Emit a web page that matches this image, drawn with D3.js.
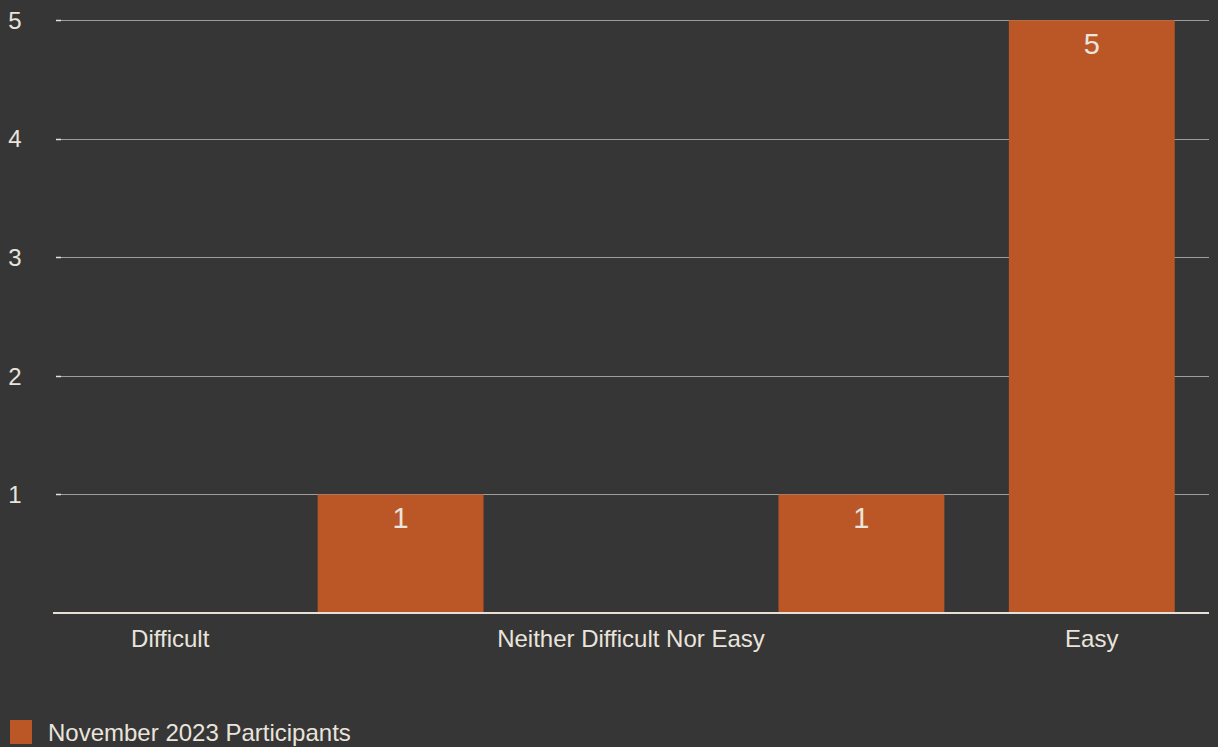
<!DOCTYPE html>
<html>
<head>
<meta charset="utf-8">
<script src="https://cdn.jsdelivr.net/npm/d3@7"></script>
<style>
  html, body { margin: 0; padding: 0; background: #363636; }
  svg { display: block; }
  text { font-family: "Liberation Sans", Arial, Helvetica, sans-serif; }
</style>
</head>
<body>
<svg id="chart" width="1218" height="747"></svg>
<script>
// Survey responses: difficulty rating counts
const categories = ["Difficult", "Somewhat Difficult", "Neither Difficult Nor Easy", "Somewhat Easy", "Easy"];
const axisLabels = ["Difficult", "", "Neither Difficult Nor Easy", "", "Easy"];
const counts = [0, 1, 0, 1, 5];
const yTicks = [1, 2, 3, 4, 5];
const seriesName = "November 2023 Participants";

const W = 1218, H = 747;
const plot = { left: 55, right: 1207, top: 20.3, bottom: 613 };
const barColor = "#bb5727";
const textColor = "#e9e4dc";

const svg = d3.select("#chart");
svg.append("rect").attr("width", W).attr("height", H).attr("fill", "#363636");

const x = d3.scaleBand()
  .domain(categories)
  .range([plot.left, plot.right])
  .paddingInner(0.28)
  .paddingOuter(0.14);

const y = d3.scaleLinear().domain([0, 5]).range([plot.bottom, plot.top]);

// horizontal gridlines
const grid = svg.append("g");
grid.selectAll("line.grid")
  .data(yTicks)
  .join("line")
  .attr("class", "grid")
  .attr("x1", plot.left + 6)
  .attr("x2", 1209)
  .attr("y1", d => Math.round(y(d)) + 0.5)
  .attr("y2", d => Math.round(y(d)) + 0.5)
  .attr("stroke", "#a09e9b")
  .attr("stroke-width", 1.2);

// small tick marks at the left end of each gridline
grid.selectAll("line.tick")
  .data(yTicks)
  .join("line")
  .attr("class", "tick")
  .attr("x1", plot.left + 1)
  .attr("x2", plot.left + 6)
  .attr("y1", d => Math.round(y(d)) + 0.5)
  .attr("y2", d => Math.round(y(d)) + 0.5)
  .attr("stroke", "#e6e0d6")
  .attr("stroke-width", 1.5);

// y tick labels
svg.append("g").selectAll("text")
  .data(yTicks)
  .join("text")
  .attr("x", 15)
  .attr("y", d => y(d))
  .attr("dy", "0.36em")
  .attr("text-anchor", "middle")
  .attr("fill", textColor)
  .attr("font-size", 24)
  .text(d => d);

// bars
svg.append("g").selectAll("rect")
  .data(categories.map((c, i) => ({ c, v: counts[i] })).filter(d => d.v > 0))
  .join("rect")
  .attr("x", d => x(d.c))
  .attr("width", x.bandwidth())
  .attr("y", d => y(d.v))
  .attr("height", d => y(0) - y(d.v))
  .attr("fill", barColor);

// value labels inside bars
svg.append("g").selectAll("text")
  .data(categories.map((c, i) => ({ c, v: counts[i] })).filter(d => d.v > 0))
  .join("text")
  .attr("x", d => x(d.c) + x.bandwidth() / 2)
  .attr("y", d => y(d.v) + 34)
  .attr("text-anchor", "middle")
  .attr("fill", textColor)
  .attr("font-size", 29)
  .text(d => d.v);

// baseline
svg.append("line")
  .attr("x1", plot.left - 2)
  .attr("x2", 1209)
  .attr("y1", y(0))
  .attr("y2", y(0))
  .attr("stroke", "#e6e0d6")
  .attr("stroke-width", 2);

// category labels
svg.append("g").selectAll("text")
  .data(categories)
  .join("text")
  .attr("x", d => x(d) + x.bandwidth() / 2)
  .attr("y", 647)
  .attr("text-anchor", "middle")
  .attr("fill", textColor)
  .attr("font-size", 24)
  .text((d, i) => axisLabels[i]);

// legend
const legend = svg.append("g");
legend.append("rect")
  .attr("x", 10).attr("y", 720)
  .attr("width", 22).attr("height", 24)
  .attr("fill", barColor);
legend.append("text")
  .attr("x", 48).attr("y", 741)
  .attr("fill", textColor)
  .attr("font-size", 24)
  .text(seriesName);
</script>
</body>
</html>
